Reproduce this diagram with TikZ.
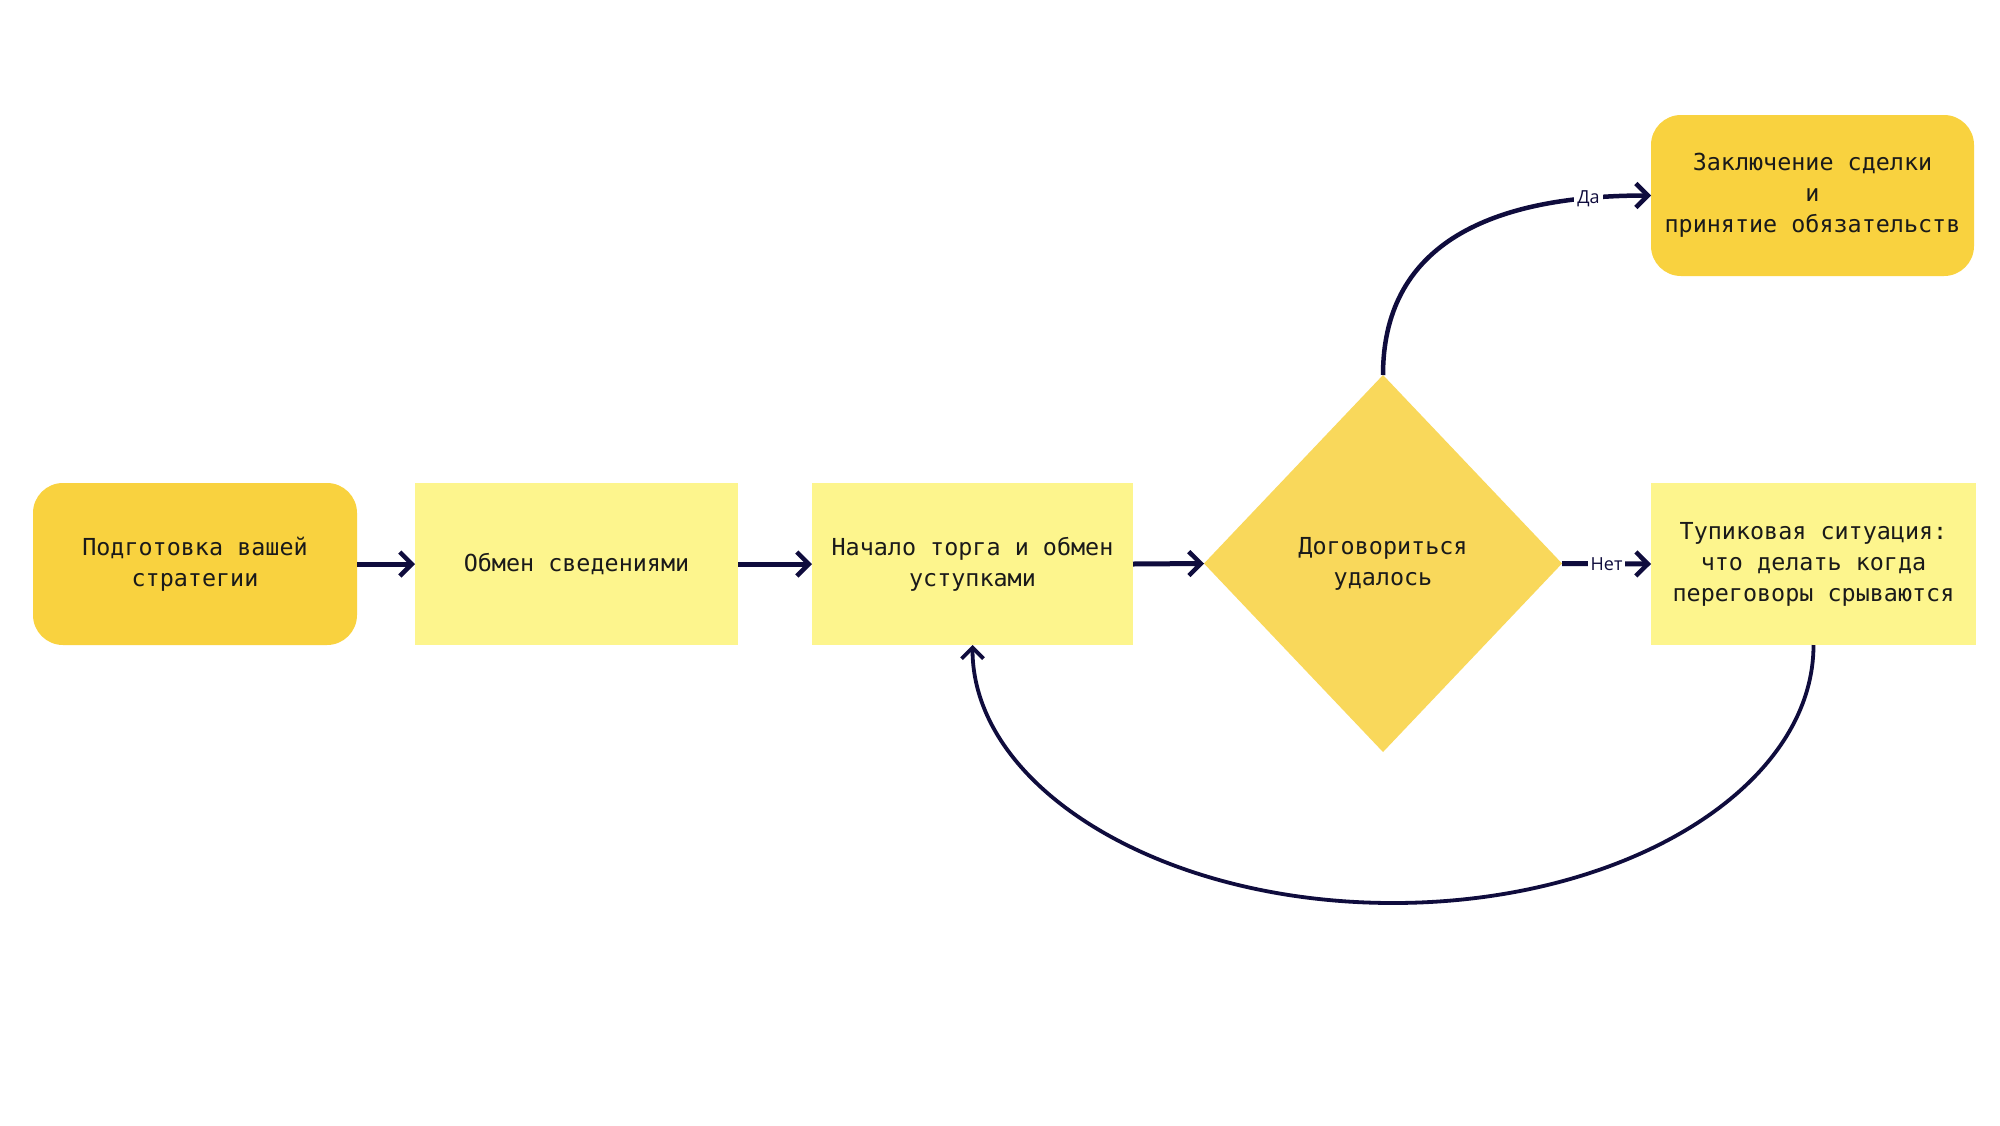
\documentclass[tikz,border=0pt]{standalone}
\usepackage{fontspec}
\usetikzlibrary{arrows.meta,shapes.geometric}
\newfontfamily\boxfont{DejaVu Sans Mono}
\newfontfamily\lblfont{Open Sans}
\definecolor{goldbox}{HTML}{F9D23F}
\definecolor{diamondcol}{HTML}{F9D85B}
\definecolor{palebox}{HTML}{FDF58D}
\definecolor{linecol}{HTML}{0F0C3D}
\definecolor{txtcol}{HTML}{1A1A1A}
\tikzset{
  boxtext/.style={font=\boxfont\fontsize{23.4}{31}\selectfont, text=txtcol, align=center, inner sep=0pt, outer sep=0pt},
  roundbox/.style={boxtext, fill=goldbox, rounded corners=30pt, minimum height=162pt},
  flatbox/.style={boxtext, fill=palebox, minimum height=162pt},
  decision/.style={boxtext, shape=diamond, fill=diamondcol, minimum width=358pt, minimum height=377pt},
  conn/.style={draw=linecol, line width=5pt, -{Straight Barb[length=12pt,width=24pt,line width=4.5pt]}},
  arcconn/.style={draw=linecol, line width=4.5pt, -{Straight Barb[length=12pt,width=24pt,line width=4.5pt]}},
  loopconn/.style={draw=linecol, line width=3.8pt, -{Straight Barb[length=11pt,width=22pt,line width=3.8pt]}},
  edgelbl/.style={font=\lblfont\fontsize{18}{20}\selectfont, text=linecol, fill=white, inner sep=3pt}
}
\begin{document}
\begin{tikzpicture}[x=1pt,y=-1pt]
\useasboundingbox (0,0) rectangle (2000,1125);
\fill[white] (0,0) rectangle (2000,1125);

\node[roundbox, minimum width=324pt] (prep) at (195,564) {Подготовка вашей\\стратегии};
\node[flatbox, minimum width=323pt] (info) at (576.5,564) {Обмен сведениями};
\node[flatbox, minimum width=321pt] (barg) at (972.5,564) {Начало торга и обмен\\уступками};
\node[decision] (dec) at (1383,563.5) {Договориться\\удалось};
\node[flatbox, minimum width=325pt] (dead) at (1813.5,564) {Тупиковая ситуация:\\что делать когда\\переговоры срываются};
\node[roundbox, minimum width=323pt, minimum height=161pt] (deal) at (1812.5,195.5) {Заключение сделки\\и\\принятие обязательств};

\coordinate (bot) at (1393,903);

\draw[conn] (prep.east) -- (info.west);
\draw[conn] (info.east) -- (barg.west);
\draw[conn] (barg.east) -- (dec.west);
\draw[conn] (dec.east) -- node[edgelbl] {Нет} (dead.west);
\draw[arcconn] (dec.north) .. controls +(0,-125) and +(-170,0) .. node[edgelbl, pos=0.87] {Да} (deal.west);
\draw[loopconn] (dead.south) .. controls +(0,142.5) and +(232,0) .. (bot)
  .. controls +(-232,0) and +(0,142.5) .. (barg.south);
\end{tikzpicture}
\end{document}
